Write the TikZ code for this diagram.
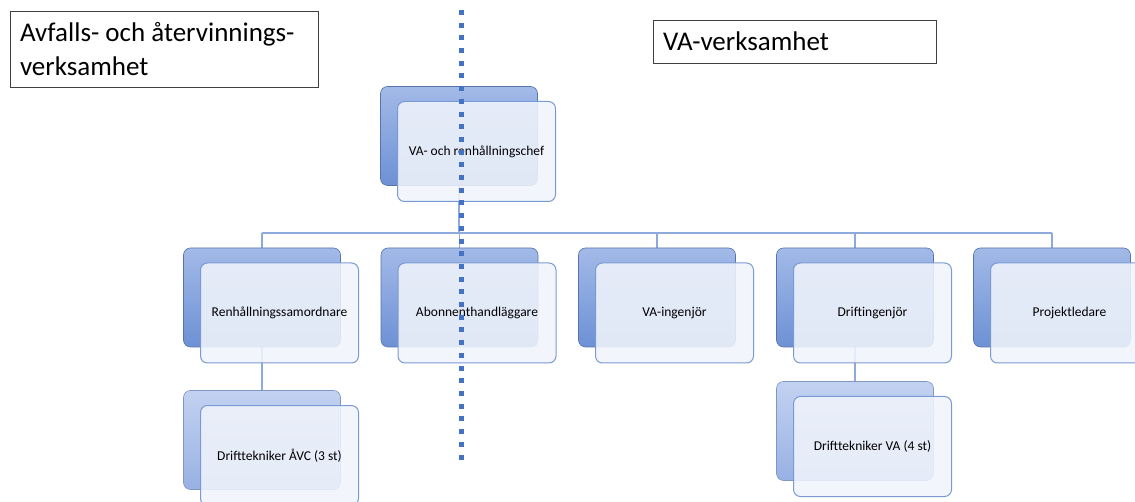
\documentclass[tikz,border=0pt]{standalone}
\usepackage{fontspec}
\setmainfont{Carlito}
\usepackage{xcolor}
\usetikzlibrary{
    calc,
    positioning,
    backgrounds
}
\definecolor{orgline}{HTML}{8EA9DB}
\definecolor{cardedge}{HTML}{7A9AD6}
\definecolor{cardfill}{HTML}{F0F4FB}
\definecolor{backtop}{HTML}{A3BAE8}
\definecolor{backbot}{HTML}{6D91D5}
\definecolor{palebacktop}{HTML}{C3D2F1}
\definecolor{palebackbot}{HTML}{98B1E3}
\definecolor{divblue}{HTML}{4472C4}
\tikzset{
    titlebox/.style={draw=black!75, line width=0.9pt, align=flush left, inner xsep=10pt,
        font=\fontsize{27}{34}\selectfont},
    backbox/.style={draw=backbot!80!black, line width=0.6pt, rounded corners=7pt,
        minimum width=157pt, minimum height=99pt, top color=backtop, bottom color=backbot},
    palebox/.style={backbox, draw=palebackbot!85!black, top color=palebacktop, bottom color=palebackbot},
    card/.style={draw=cardedge, line width=1pt, rounded corners=7pt,
        minimum width=158pt, minimum height=100pt, fill=cardfill, fill opacity=0.88,
        text opacity=1, font=\fontsize{13.5}{16}\selectfont},
    link/.style={draw=orgline, line width=1.2pt}
}

\begin{document}
\begin{tikzpicture}[x=1pt, y=-1pt]
    \useasboundingbox (0,0) rectangle (1135,502);
    \clip (0,0) rectangle (1135,502);

    \node[titlebox, minimum width=308pt, minimum height=76pt, text width=288pt] (afvtitle) at (164,49)
        {Avfalls- och återvinnings-\\verksamhet};
    \node[titlebox, minimum width=283pt, minimum height=43pt, text width=263pt] (vatitle) at (794.5,41.5)
        {VA-verksamhet};

    \node[backbox] (chef) at (459,136) {};
    \node[card] (chefcard) at ($(chef)+(17.5,15.5)$) {VA- och renhållningschef};

    \node[backbox] (renh) at (262,297.5) {};
    \node[card] (renhcard) at ($(renh)+(17.5,15.5)$) {Renhållningssamordnare};
    \node[backbox] (abon) at (459.5,297.5) {};
    \node[card] (aboncard) at ($(abon)+(17.5,15.5)$) {Abonnenthandläggare};
    \node[backbox] (vaing) at (657,297.5) {};
    \node[card] (vaingcard) at ($(vaing)+(17.5,15.5)$) {VA-ingenjör};
    \node[backbox] (drift) at (855,297.5) {};
    \node[card] (driftcard) at ($(drift)+(17.5,15.5)$) {Driftingenjör};
    \node[backbox] (proj) at (1052,297.5) {};
    \node[card] (projcard) at ($(proj)+(17.5,15.5)$) {Projektledare};

    \node[palebox] (renhtek) at (262,440) {};
    \node[card] (renhtekcard) at ($(renhtek)+(17.5,15.5)$) {Drifttekniker ÅVC (3 st)};
    \node[palebox] (drifttek) at (855,431) {};
    \node[card] (drifttekcard) at ($(drifttek)+(17.5,15.5)$) {Drifttekniker VA (4 st)};

    \begin{pgfonlayer}{background}
        \coordinate (bus) at (0,233);
        \draw[link] (chef.south) -- (chef.south |- bus);
        \draw[link] (renh.north |- bus) -- (proj.north |- bus);
        \foreach \n in {renh,abon,vaing,drift,proj}
            \draw[link] (\n.north) -- (\n.north |- bus);
        \draw[link] (renh.south) -- (renhtek.north);
        \draw[link] (drift.south) -- (drifttek.north);
    \end{pgfonlayer}

    \coordinate (divtop) at (461,10);
    \coordinate (divbot) at (461,462);
    \draw[draw=divblue, line width=5pt, dash pattern=on 5pt off 7.7pt] (divtop) -- (divbot);
\end{tikzpicture}
\end{document}
